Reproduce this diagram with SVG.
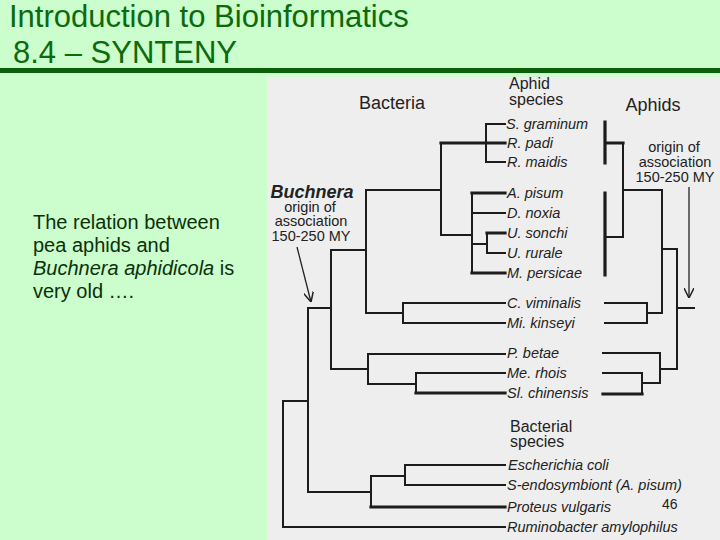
<svg xmlns="http://www.w3.org/2000/svg" width="720" height="540" viewBox="0 0 720 540">
<defs>
<style>
.title{font-family:"Liberation Sans",Arial,sans-serif;font-size:31px;fill:#0b6a0b}
.body{font-family:"Liberation Sans",Arial,sans-serif;font-size:20px;fill:#0a300a}
.fig{font-family:"Liberation Sans",Arial,sans-serif;fill:#222}
.hd{font-size:16px}
.ann{font-size:14.5px}
.sp{font-size:14.5px;font-style:italic}
.br{fill:none;stroke:#1c1c1c;stroke-width:2;stroke-linecap:square}
.tk{fill:none;stroke:#1c1c1c;stroke-width:3.2;stroke-linecap:square}
.ar{fill:none;stroke:#222;stroke-width:1.3}
</style>
<marker id="vhead" viewBox="0 0 10 10" refX="10" refY="5" markerWidth="10" markerHeight="10" markerUnits="userSpaceOnUse" orient="auto">
<path d="M0,0 L10,5 L0,10" fill="none" stroke="#222" stroke-width="1.5"/>
</marker>
</defs>

<rect width="720" height="540" fill="#ccfdcc"/>

<g id="title">
<text class="title" x="9" y="27">Introduction to Bioinformatics</text>
<text class="title" x="13" y="63">8.4 – SYNTENY</text>
<rect x="0" y="68" width="720" height="5" fill="#0a5f0a"/>
</g>

<g id="caption">
<text class="body" x="33" y="229">The relation between</text>
<text class="body" x="33" y="252">pea aphids and</text>
<text class="body" x="33" y="275"><tspan font-style="italic">Buchnera aphidicola</tspan> is</text>
<text class="body" x="33" y="298">very old ….</text>
</g>

<g id="figure">
<rect x="267" y="77" width="453" height="463" fill="#eeeeee"/>

<g id="connectors">
<path class="br" d="M486,124 H505 M486,162 H505 M486,124 V162 M441,143 V235 M366,190 H441 M441,235 H472 M472,193 V273 M472,213 H505 M472,244 H487 M487,233 V253 M487,253 H505 M366,190 V313 M366,313 H403 M403,303 V323 M403,303 H505 M403,323 H505 M331,250 H366 M331,250 V369 M331,369 H368 M368,354 V384 M368,354 H505 M368,384 H416 M416,373 V393 M416,373 H505 M308,308 H331 M308,308 V492 M308,492 H371 M371,476 V507 M371,476 H405 M405,465 V485 M405,465 H505 M405,485 H505 M283,401 H308 M283,401 V527 M283,527 H505"/>
<path class="tk" d="M441,143 H505 M472,193 H505 M472,273 H505 M487,233 H505 M416,393 H505 M371,507 H505"/>
<path class="br" d="M623,143 V237 M605,237 H623 M623,190 H662 M662,190 V313 M605,303 H647 M605,323 H647 M647,303 V323 M647,313 H662 M662,249 H677 M677,249 V369 M677,308 H694 M603,353 H660 M660,353 V383 M642,383 H660 M642,373 V394 M603,373 H642 M660,369 H677"/>
<path class="tk" d="M605,122 V163 M605,193 V275 M605,143 H623 M603,394 H642"/>
<path class="ar" d="M297,247 L311,302" marker-end="url(#vhead)"/>
<path class="ar" d="M689,187 V298" marker-end="url(#vhead)"/>
</g>

<g id="headers" class="fig">
<text x="392" y="109" text-anchor="middle" font-size="18">Bacteria</text>
<text class="hd" x="509" y="89">Aphid</text>
<text class="hd" x="509" y="105">species</text>
<text x="653" y="111" text-anchor="middle" font-size="18">Aphids</text>
<text class="hd" x="510" y="432">Bacterial</text>
<text class="hd" x="510" y="447">species</text>
</g>

<g id="buchnera-origin" class="fig" text-anchor="middle">
<text x="312" y="198" font-size="18" font-weight="bold" font-style="italic">Buchnera</text>
<text class="ann" x="310" y="212">origin of</text>
<text class="ann" x="311" y="226">association</text>
<text class="ann" x="311" y="241">150-250 MY</text>
</g>

<g id="aphid-origin" class="fig" text-anchor="middle">
<text class="ann" x="674" y="152">origin of</text>
<text class="ann" x="675" y="167">association</text>
<text class="ann" x="675" y="182">150-250 MY</text>
</g>

<g id="labels" class="fig">
<g id="n-sgraminum"><text class="sp" x="506" y="129">S. graminum</text></g>
<g id="n-rpadi"><text class="sp" x="507" y="148">R. padi</text></g>
<g id="n-rmaidis"><text class="sp" x="507" y="167">R. maidis</text></g>
<g id="n-apisum"><text class="sp" x="507" y="198">A. pisum</text></g>
<g id="n-dnoxia"><text class="sp" x="507" y="218">D. noxia</text></g>
<g id="n-usonchi"><text class="sp" x="507" y="238">U. sonchi</text></g>
<g id="n-urural"><text class="sp" x="507" y="258">U. rurale</text></g>
<g id="n-mpersicae"><text class="sp" x="507" y="278">M. persicae</text></g>
<g id="n-cviminalis"><text class="sp" x="507" y="308">C. viminalis</text></g>
<g id="n-mikinseyi"><text class="sp" x="507" y="328">Mi. kinseyi</text></g>
<g id="n-pbetae"><text class="sp" x="507" y="358">P. betae</text></g>
<g id="n-merhois"><text class="sp" x="507" y="378">Me. rhois</text></g>
<g id="n-slchinensis"><text class="sp" x="507" y="398">Sl. chinensis</text></g>
<g id="n-ecoli"><text class="sp" x="508" y="470">Escherichia coli</text></g>
<g id="n-sendo"><text class="sp" x="507" y="490" font-style="normal">S-endosymbiont <tspan font-style="italic">(A. pisum)</tspan></text></g>
<g id="n-proteus"><text class="sp" x="507" y="512">Proteus vulgaris</text></g>
<g id="n-rumino"><text class="sp" x="507" y="532">Ruminobacter amylophilus</text></g>
</g>

<text class="fig" x="662" y="509" font-size="14">46</text>
</g>
</svg>
